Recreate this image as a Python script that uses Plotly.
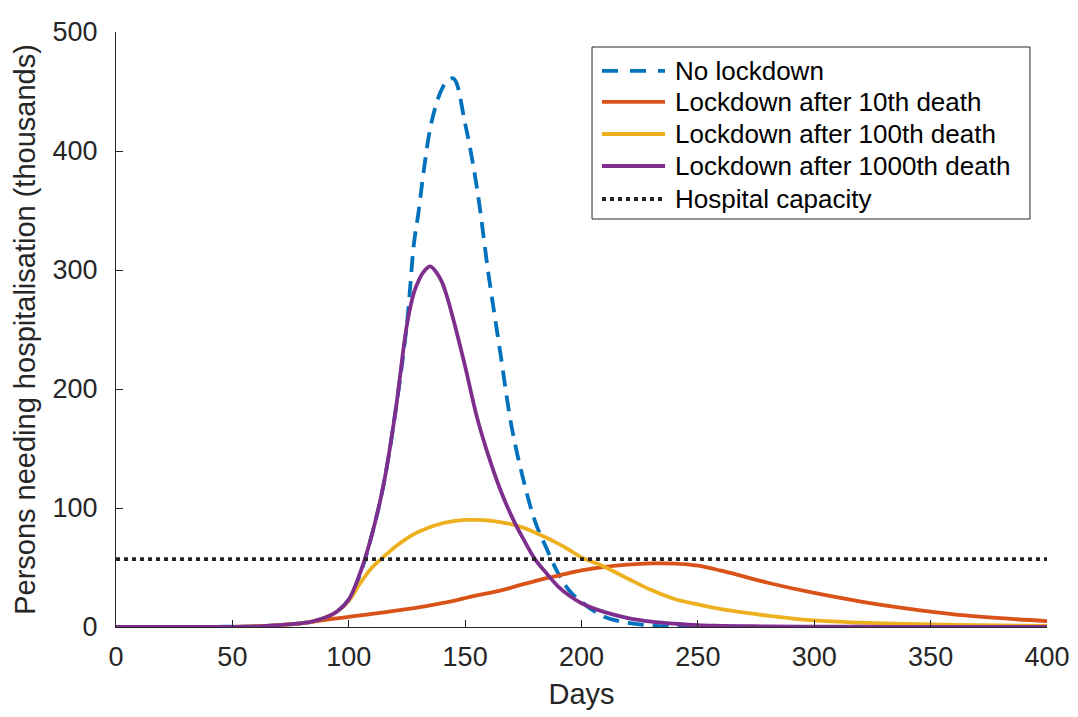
import plotly.graph_objects as go

days = [0, 20, 40, 60, 70, 80, 85, 90, 95, 100, 105, 110, 115, 120, 125, 128, 130, 132, 135,
        138, 140, 142, 145, 150, 155, 160, 165, 170, 175, 180, 185, 190, 195, 200, 210, 220,
        230, 240, 250, 260, 270, 280, 300, 320, 340, 360, 380, 400]

no_lockdown = [0, 0, 0.1, 0.6, 1.6, 3.2, 5.0, 8.0, 13, 23, 45, 78, 120, 180, 255, 322, 349, 380, 419,
               442, 452, 458, 461, 423, 370, 297, 232, 168, 124, 89, 66, 45, 30, 21, 8.5, 3.5,
               1.3, 0.5, 0.2, 0.1, 0, 0, 0, 0, 0, 0, 0, 0]

lock_10 = [0, 0, 0.1, 0.6, 1.6, 3.2, 4.6, 6.0, 7.3, 8.6, 9.8, 11.0, 12.3, 13.8, 15.0, 15.9, 16.5, 17.2, 18.2,
           19.3, 20.0, 20.8, 22.0, 24.3, 26.5, 28.5, 30.6, 33.2, 36.0, 38.5, 41.0, 43.2, 45.5, 47.5, 50.5, 52.4,
           53.4, 53.3, 51.6, 47.3, 42.3, 37.2, 28.6, 21.4, 15.4, 10.6, 7.4, 5.0]

lock_100 = [0, 0, 0.1, 0.6, 1.6, 3.2, 5.0, 8.0, 13, 22, 37, 50, 59, 67.5, 74.5, 78, 80, 81.6, 84,
            85.9, 87, 87.9, 89, 90, 90, 89.5, 88.2, 86.3, 83.5, 79.5, 75, 70, 64.5, 58.5, 50.5, 40.5,
            31, 23.5, 19, 15, 12, 9.5, 5.5, 3.6, 2.6, 1.8, 1.3, 1.0]

lock_1000 = [0, 0, 0.1, 0.6, 1.6, 3.2, 5.0, 8.0, 13, 23, 46, 78, 120, 180, 254, 281, 291, 298, 303,
             297, 290, 279, 258, 219, 177, 144, 116, 93, 74, 57, 45, 34, 26, 20, 12.5, 7.5,
             4.5, 2.8, 1.5, 1.0, 0.7, 0.5, 0.3, 0.2, 0.1, 0.1, 0.1, 0.1]

capacity_days = [0, 400]
capacity = [57, 57]

names = ["No lockdown", "Lockdown after 10th death", "Lockdown after 100th death",
         "Lockdown after 1000th death", "Hospital capacity"]
colors = ["#0072BD", "#D95319", "#EDB120", "#7E2F8E", "#262626"]
dashes = ["16px,9px", "solid", "solid", "solid", "4px,4px"]
LW = 3.8

fig = go.Figure()
series = [no_lockdown, lock_10, lock_100, lock_1000]
for s, n, c, d in zip(series, names[:4], colors[:4], dashes[:4]):
    fig.add_trace(go.Scatter(x=days, y=s, name=n, mode="lines", showlegend=False,
                             line=dict(color=c, width=LW, dash=d, shape="spline", smoothing=1.0),
                             cliponaxis=False))
fig.add_trace(go.Scatter(x=capacity_days, y=capacity, name=names[4], mode="lines",
                         showlegend=False,
                         line=dict(color=colors[4], width=LW, dash=dashes[4]),
                         cliponaxis=False))

# Legend drawn as a boxed key in paper coordinates
leg_x0, leg_x1, leg_y0, leg_y1 = 0.5113, 0.9817, 0.6857, 0.9748
row_y = [0.9345, 0.8824, 0.8286, 0.7748, 0.7193]
sample_x0, sample_x1, text_x = 0.5220, 0.5897, 0.5983
shapes = [dict(type="rect", xref="paper", yref="paper", x0=leg_x0, x1=leg_x1,
               y0=leg_y0, y1=leg_y1, line=dict(color="#262626", width=1),
               fillcolor="white", layer="above")]
annotations = []
for n, c, d, yy in zip(names, colors, dashes, row_y):
    shapes.append(dict(type="line", xref="paper", yref="paper", x0=sample_x0, x1=sample_x1,
                       y0=yy, y1=yy, line=dict(color=c, width=LW,
                                               dash=("16px,12px" if d == "16px,9px" else d)),
                       layer="above"))
    annotations.append(dict(text=n, xref="paper", yref="paper", x=text_x, y=yy,
                            xanchor="left", yanchor="middle", showarrow=False,
                            font=dict(family="Liberation Sans, Arial, sans-serif",
                                      size=26, color="black")))

axis_common = dict(
    showline=True, linecolor="#262626", linewidth=1, mirror=False,
    ticks="inside", ticklen=7, tickwidth=1, tickcolor="#262626",
    showgrid=False, zeroline=False, automargin=False,
    tickfont=dict(family="Liberation Sans, Arial, sans-serif", size=27, color="#262626"),
)

# page body has an 8px offset; size the figure so the plot box lands where the reference has it
fig.update_layout(
    width=1070, height=709,
    margin=dict(l=108, r=31, t=24, b=90),
    paper_bgcolor="white", plot_bgcolor="white",
    font=dict(family="Liberation Sans, Arial, sans-serif", color="#262626"),
    xaxis=dict(range=[0, 400], tickvals=[0, 50, 100, 150, 200, 250, 300, 350, 400],
               title=dict(text="Days", font=dict(size=29, color="#262626"), standoff=12),
               ticklabelstandoff=6,
               **axis_common),
    yaxis=dict(range=[0, 500], tickvals=[0, 100, 200, 300, 400, 500],
               title=dict(text="Persons needing hospitalisation (thousands)",
                          font=dict(size=29, color="#262626"), standoff=8),
               ticklabelstandoff=12,
               **axis_common),
    shapes=shapes,
    annotations=annotations,
    showlegend=False,
)

fig.write_html("out.html")
